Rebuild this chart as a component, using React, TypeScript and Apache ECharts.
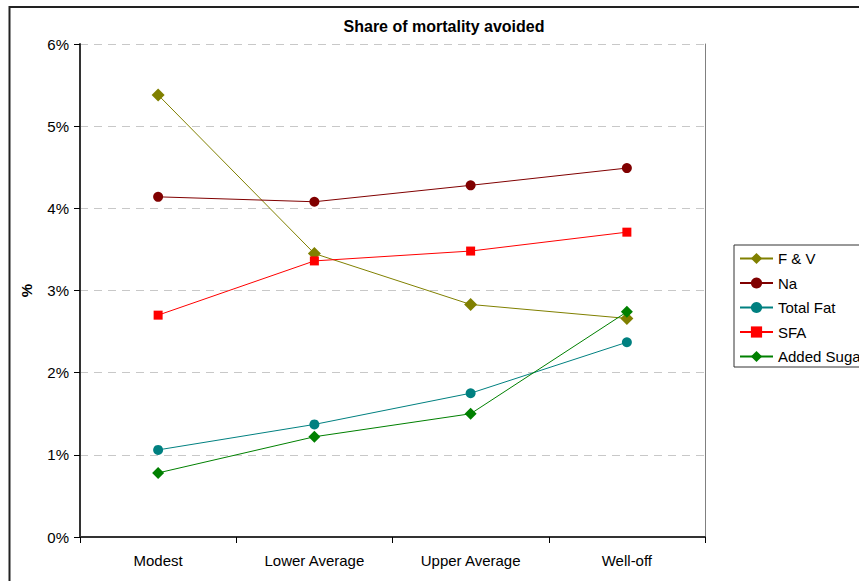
import React, { useEffect, useRef } from "react";
import * as echarts from "echarts";

const categories = ["Modest", "Lower Average", "Upper Average", "Well-off"];
const fvValues = [5.38, 3.45, 2.83, 2.66];
const naValues = [4.14, 4.08, 4.28, 4.49];
const totalFatValues = [1.06, 1.37, 1.75, 2.37];
const sfaValues = [2.7, 3.36, 3.48, 3.71];
const addedSugarValues = [0.78, 1.22, 1.5, 2.74];
const yTicks = [0, 1, 2, 3, 4, 5, 6];

const FONT = "'Liberation Sans', Arial, sans-serif";

export default function App() {
  const ref = useRef<HTMLDivElement>(null);
  useEffect(() => {
    if (!ref.current) return;
    const chart = echarts.init(ref.current, null, { renderer: "svg" });
    const mk = (name: string, data: number[], color: string, symbol: string, size: number) => ({
      name,
      type: "line",
      data,
      symbol,
      symbolSize: size,
      lineStyle: { color, width: 1 },
      itemStyle: { color },
      z: 3,
    });
    chart.setOption({
      animation: false,
      backgroundColor: "#fff",
      textStyle: { fontFamily: FONT },
      title: {
        text: "Share of mortality avoided",
        left: 439,
        textAlign: "center",
        top: 13,
        textStyle: { fontFamily: FONT, fontSize: 16, fontWeight: "bold", color: "#000" },
      },
      graphic: [
        {
          type: "rect",
          shape: { x: 9.5, y: 7, width: 900, height: 600 },
          style: { fill: "none", stroke: "#222", lineWidth: 2 },
          z: 10,
        },
      ],
      legend: {
        orient: "vertical",
        left: 734,
        top: 245,
        padding: [6, 40, 3, 5],
        itemWidth: 33,
        itemHeight: 14,
        itemGap: 9.5,
        borderColor: "#333",
        borderWidth: 1,
        textStyle: { fontFamily: FONT, fontSize: 15, color: "#000" },
        data: ["F & V", "Na", "Total Fat", "SFA", "Added Sugar"],
      },
      grid: { left: 80, top: 44, width: 625, height: 493, containLabel: false },
      xAxis: {
        type: "category",
        data: categories,
        boundaryGap: true,
        axisLine: { lineStyle: { color: "#333", width: 2 } },
        axisTick: { show: true, length: 6, lineStyle: { color: "#000" } },
        axisLabel: { fontFamily: FONT, fontSize: 15, color: "#000", margin: 16 },
      },
      yAxis: [
        {
          type: "value",
          min: 0,
          max: 6,
          interval: 1,
          name: "%",
          nameLocation: "middle",
          nameGap: 46,
          nameRotate: 90,
          nameTextStyle: { fontFamily: FONT, fontSize: 15, fontWeight: "bold", color: "#000" },
          axisLine: { show: true, lineStyle: { color: "#333", width: 2 } },
          axisTick: { show: true, length: 6, lineStyle: { color: "#000" } },
          axisLabel: {
            fontFamily: FONT,
            fontSize: 15,
            color: "#000",
            margin: 11,
            formatter: (v: number) => (yTicks.includes(v) ? v + "%" : ""),
          },
          splitLine: { show: true, lineStyle: { color: "#c8c8c8", type: [8, 6], width: 1 } },
        },
        {
          type: "value",
          min: 0,
          max: 6,
          interval: 1,
          position: "right",
          axisLine: { show: true, lineStyle: { color: "#808080", width: 1 } },
          axisTick: { show: false },
          axisLabel: { show: false },
          splitLine: { show: false },
        },
      ],
      series: [
        mk("F & V", fvValues, "#808000", "diamond", 13),
        mk("Na", naValues, "#800000", "circle", 10),
        mk("Total Fat", totalFatValues, "#008080", "circle", 10),
        mk("SFA", sfaValues, "#ff0000", "rect", 9),
        mk("Added Sugar", addedSugarValues, "#008000", "diamond", 12),
      ],
    });
    return () => chart.dispose();
  }, []);
  return (
    <div
      ref={ref}
      style={{ position: "fixed", left: 0, top: 0, width: 859, height: 581 }}
    />
  );
}
